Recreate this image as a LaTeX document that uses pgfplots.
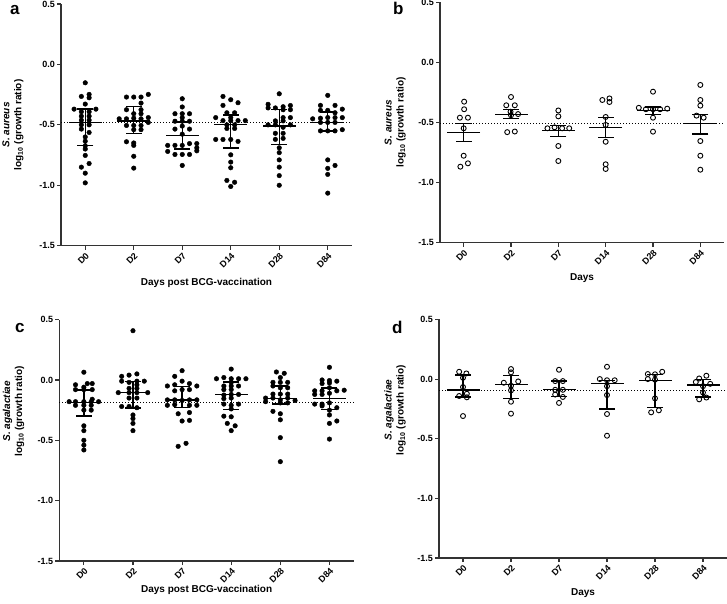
\documentclass[border=0pt]{standalone}
\usepackage{fontspec}
\setmainfont{Liberation Sans}
\usepackage{pgfplots}
\pgfplotsset{compat=1.18}
\usepackage{pgfplotstable}

% summary lines: x, centre line, upper bar end, lower bar end
\pgfplotstableread{
x m hi lo
0 -0.483 -0.369 -0.668
1 -0.469 -0.347 -0.574
2 -0.588 -0.477 -0.700
3 -0.499 -0.419 -0.692
4 -0.510 -0.375 -0.662
5 -0.478 -0.394 -0.550
}\statA
\pgfplotstableread{
x m hi lo
0 -0.581 -0.507 -0.659
1 -0.432 -0.394 -0.465
2 -0.568 -0.523 -0.615
3 -0.543 -0.457 -0.626
4 -0.399 -0.372 -0.435
5 -0.510 -0.436 -0.596
}\statB
\pgfplotstableread{
x m hi lo
0 -0.185 -0.083 -0.298
1 -0.105 -0.014 -0.232
2 -0.166 -0.055 -0.226
3 -0.121 -0.017 -0.243
4 -0.155 -0.050 -0.200
5 -0.155 -0.066 -0.243
}\statC
\pgfplotstableread{
x m hi lo
0 -0.092 0.034 -0.151
1 -0.045 0.028 -0.165
2 -0.087 -0.017 -0.145
3 -0.039 -0.011 -0.251
4 -0.011 0.039 -0.237
5 -0.050 -0.003 -0.151
}\statD

\pgfplotsset{
 panel/.style={
  scale only axis, clip=false,
  xmin=-0.5, xmax=5.5, ymin=-1.5, ymax=0.5,
  axis lines*=left,
  axis line style={black!80, line width=1.1pt},
  every tick/.style={black!80, line width=1.1pt},
  tick align=outside, major tick length=4pt,
  xtick={0,...,5}, xticklabels={D0,D2,D7,D14,D28,D84},
  ytick={-1.5,-1,-0.5,0,0.5}, yticklabels={-1.5,-1.0,-0.5,0.0,0.5},
  tick label style={font=\bfseries\fontsize{9}{10}\selectfont},
  xticklabel style={rotate=45, anchor=north east, inner sep=1.5pt},
  yticklabel style={inner sep=2pt},
  label style={font=\bfseries\fontsize{10}{12}\selectfont},
 },
 dots/.style={only marks, mark=*, mark size=2.3pt, black},
 circs/.style={only marks, mark=o, mark size=2.5pt, black, mark options={line width=0.9pt}},
 ctr/.style={black, only marks, mark=-, mark size=16.5pt, mark options={line width=1.3pt},
   /pgfplots/error bars/y dir=both, /pgfplots/error bars/y explicit,
   /pgfplots/error bars/error mark=none,
   /pgfplots/error bars/error bar style={line width=1.3pt}},
 cap/.style={black, only marks, mark=-, mark size=8pt, mark options={line width=1.3pt}},
 refl/.style={black, line width=1pt, dash pattern=on 1pt off 2pt},
}

\begin{document}
\begin{tikzpicture}
\useasboundingbox (0,0) rectangle (727pt,603pt);

% ---------------- panel a ----------------
\begin{axis}[panel, at={(61pt,357.3pt)}, anchor=south west, width=291pt, height=241.7pt,
  xlabel={Days post BCG-vaccination},
  xlabel style={at={(axis description cs:0.5,0)}, yshift=-37pt, anchor=center},
  ylabel={\textit{S. aureus}\\log\textsubscript{10} (growth ratio)},
  ylabel style={at={(axis description cs:-0.165,0.5)}, anchor=center, align=center}]
\addplot[refl] coordinates {(-0.5,-0.483) (5.5,-0.483)};
\addplot[dots] coordinates {
(0,-0.152) (-0.08,-0.265) (0.08,-0.248) (0.08,-0.276) (0,-0.328)
(-0.23,-0.37) (0.22,-0.37) (-0.08,-0.392) (0.08,-0.392)
(-0.08,-0.428) (0.08,-0.428) (-0.08,-0.461) (0.08,-0.461)
(-0.08,-0.50) (0.08,-0.50) (-0.08,-0.535) (0.08,-0.563)
(0,-0.60) (0,-0.635) (0,-0.673) (0,-0.70) (0,-0.753)
(0.08,-0.82) (-0.08,-0.85) (0,-0.90) (0,-0.98)
(0.85,-0.27) (1,-0.27) (1.15,-0.27) (1.3,-0.248)
(1.15,-0.32) (0.85,-0.375) (1.15,-0.375) (1,-0.408) (1.15,-0.408)
(0.7,-0.45) (0.85,-0.45) (1,-0.445) (1.15,-0.45) (1.3,-0.44) (1.3,-0.48)
(0.85,-0.505) (1,-0.505) (1.15,-0.505) (1,-0.54) (1.15,-0.54)
(0.85,-0.64) (1,-0.65) (1,-0.67) (1,-0.76) (1,-0.858)
(2,-0.284) (2,-0.352) (1.85,-0.408) (2,-0.408) (2.15,-0.408)
(2,-0.44) (1.85,-0.47) (2,-0.47) (2.15,-0.47)
(2,-0.51) (1.85,-0.535) (2.15,-0.535) (2,-0.577)
(1.7,-0.67) (1.85,-0.67) (2,-0.67) (2.15,-0.655) (2.3,-0.655) (2.3,-0.69)
(1.7,-0.72) (1.85,-0.745) (2,-0.745) (2.15,-0.745) (2.3,-0.715) (2,-0.836)
(2.84,-0.265) (3,-0.292) (3.15,-0.317) (2.84,-0.339)
(2.92,-0.40) (3.08,-0.40) (3,-0.44) (2.69,-0.44)
(2.84,-0.465) (3,-0.465) (3.15,-0.465) (3.3,-0.465)
(2.92,-0.50) (3.08,-0.50) (2.92,-0.53) (3.08,-0.53)
(2.69,-0.621) (2.84,-0.621) (3,-0.621) (3.15,-0.637)
(3,-0.748) (3,-0.808) (3,-0.855) (2.92,-0.96) (3.08,-0.975) (3,-1.01)
(4,-0.243) (3.77,-0.33) (3.92,-0.36) (4.08,-0.35) (4.23,-0.34) (3.77,-0.36)
(4.08,-0.375) (4.23,-0.375) (4.08,-0.44) (4.23,-0.44)
(3.92,-0.467) (4.08,-0.467) (3.77,-0.50) (3.92,-0.50) (4.08,-0.52) (4.23,-0.50)
(3.92,-0.57) (4.08,-0.57) (3.92,-0.62) (4.08,-0.612)
(4,-0.69) (4,-0.73) (4,-0.79) (4,-0.85) (4,-0.92) (4,-1.0)
(5,-0.256) (4.85,-0.339) (5.15,-0.339) (4.85,-0.38) (5,-0.38) (5.3,-0.37) (5.15,-0.40)
(4.69,-0.45) (4.85,-0.445) (5,-0.44) (5.15,-0.44) (5.3,-0.44)
(4.85,-0.48) (5,-0.48) (5.15,-0.48)
(4.85,-0.55) (5,-0.55) (5.15,-0.55) (5.3,-0.54)
(5,-0.79) (5.15,-0.836) (5,-0.86) (5,-0.91) (5,-1.065)
};
\addplot[ctr] table[x=x, y=m, y error plus expr=\thisrow{hi}-\thisrow{m}, y error minus expr=\thisrow{m}-\thisrow{lo}] {\statA};
\addplot[cap] table[x=x, y=hi] {\statA};
\addplot[cap] table[x=x, y=lo] {\statA};
\end{axis}

% ---------------- panel b ----------------
\begin{axis}[panel, at={(440pt,360.1pt)}, anchor=south west, width=284pt, height=240.8pt,
  xlabel={Days},
  xlabel style={at={(axis description cs:0.5,0)}, yshift=-35pt, anchor=center},
  ylabel={\textit{S. aureus}\\log\textsubscript{10} (growth ratio)},
  ylabel style={at={(axis description cs:-0.158,0.5)}, anchor=center, align=center}]
\addplot[refl] coordinates {(-0.5,-0.505) (5.5,-0.505)};
\addplot[circs] coordinates {
(0.01,-0.327) (0.01,-0.39) (-0.08,-0.46) (0.09,-0.46) (0,-0.548) (0,-0.776) (-0.07,-0.867) (0.09,-0.839)
(1,-0.288) (0.9,-0.357) (1.08,-0.357) (0.99,-0.41) (1,-0.44) (1.15,-0.43) (0.92,-0.58) (1.08,-0.575)
(2,-0.40) (2,-0.449) (1.77,-0.548) (1.92,-0.54) (2.08,-0.548) (2.23,-0.548) (2,-0.695) (2,-0.82)
(2.93,-0.313) (3.08,-0.30) (3.08,-0.33) (3,-0.454) (3,-0.52) (3,-0.66) (3,-0.847) (3,-0.886)
(4,-0.244) (3.7,-0.378) (3.85,-0.39) (4,-0.39) (4.15,-0.39) (4.3,-0.385) (4,-0.46) (4,-0.576)
(5,-0.188) (5,-0.313) (5,-0.36) (4.92,-0.443) (5.07,-0.46) (5,-0.654) (5,-0.776) (5,-0.892)
};
\addplot[ctr] table[x=x, y=m, y error plus expr=\thisrow{hi}-\thisrow{m}, y error minus expr=\thisrow{m}-\thisrow{lo}] {\statB};
\addplot[cap] table[x=x, y=hi] {\statB};
\addplot[cap] table[x=x, y=lo] {\statB};
\end{axis}

% ---------------- panel c ----------------
\begin{axis}[panel, at={(59.3pt,42pt)}, anchor=south west, width=294.7pt, height=241.4pt,
  xlabel={Days post BCG-vaccination},
  xlabel style={at={(axis description cs:0.5,0)}, yshift=-29pt, anchor=center},
  ylabel={\textit{S. agalactiae}\\log\textsubscript{10} (growth ratio)},
  ylabel style={at={(axis description cs:-0.155,0.62)}, anchor=center, align=center}]
\addplot[refl] coordinates {(-0.5,-0.185) (5.5,-0.185)};
\addplot[dots] coordinates {
(0,0.064) (-0.17,-0.04) (0.07,-0.03) (0.17,-0.03) (0,-0.06)
(-0.17,-0.08) (0,-0.08) (0.17,-0.08)
(-0.3,-0.18) (-0.17,-0.18) (0,-0.18) (0.15,-0.18) (0.3,-0.18) (0.17,-0.16)
(-0.17,-0.21) (0,-0.21) (0.15,-0.21) (0,-0.25) (0.15,-0.25)
(0,-0.38) (0,-0.42) (0,-0.50) (0,-0.54) (0,-0.58)
(1,0.408) (0.77,0.03) (0.92,0.04) (1.08,0.05)
(0.77,-0.01) (0.92,-0.02) (1.08,-0.01) (1.23,-0.01) (1.08,-0.04)
(0.92,-0.07) (1.08,-0.07)
(0.7,-0.105) (0.92,-0.105) (1.08,-0.105) (1.3,-0.105)
(0.92,-0.15) (1.08,-0.15) (0.77,-0.22) (0.92,-0.22) (1.08,-0.23)
(1,-0.29) (1,-0.32) (1,-0.36) (1,-0.42)
(2,0.077) (1.85,0.03)
(1.7,-0.05) (1.85,-0.04) (2,-0.01) (2.15,-0.03) (2.3,-0.05)
(1.85,-0.09) (2,-0.08) (2.15,-0.08)
(1.7,-0.165) (1.85,-0.165) (2,-0.17) (2.15,-0.165) (2.3,-0.165)
(1.7,-0.21) (1.85,-0.205) (2.15,-0.21) (2.3,-0.21)
(1.92,-0.28) (2.15,-0.27) (2,-0.34) (2.15,-0.335) (1.92,-0.55) (2.08,-0.525)
(3,0.09) (2.7,0.01) (2.85,0.02) (3,0.01) (3.15,0.01) (3.3,0.01)
(3,-0.02) (2.85,-0.05) (3,-0.05) (3.15,-0.05) (2.85,-0.08) (3,-0.08)
(2.85,-0.125) (3,-0.12) (3.15,-0.12) (2.85,-0.155) (3,-0.15)
(2.85,-0.2) (3,-0.21) (3.15,-0.2) (3,-0.24)
(2.85,-0.3) (3,-0.305) (2.92,-0.36) (3.08,-0.38) (3,-0.42)
(3.92,0.066) (4.08,0.055) (4,0.02)
(3.85,-0.02) (4,-0.02) (4.15,-0.02)
(3.85,-0.05) (4,-0.065) (4.15,-0.065)
(3.85,-0.117) (4,-0.117) (4.15,-0.117)
(3.7,-0.15) (3.85,-0.15) (4,-0.165) (4.15,-0.15) (4.3,-0.17)
(3.7,-0.18) (4,-0.19) (4.15,-0.19)
(3.85,-0.26) (4,-0.28) (4,-0.33) (4,-0.478) (4,-0.677)
(5,0.105) (4.85,0.0) (5,-0.005) (5.15,-0.01) (4.85,-0.03) (5,-0.025)
(4.7,-0.09) (4.85,-0.09) (5,-0.065) (5.15,-0.09) (5.3,-0.085)
(4.7,-0.12) (4.85,-0.12) (5,-0.11)
(4.7,-0.2) (4.85,-0.2) (5,-0.19) (5.15,-0.23) (4.85,-0.215)
(5,-0.25) (5,-0.29) (5,-0.36) (5.15,-0.34) (5,-0.49)
};
\addplot[ctr] table[x=x, y=m, y error plus expr=\thisrow{hi}-\thisrow{m}, y error minus expr=\thisrow{m}-\thisrow{lo}] {\statC};
\addplot[cap] table[x=x, y=hi] {\statC};
\addplot[cap] table[x=x, y=lo] {\statC};
\end{axis}

% ---------------- panel d ----------------
\begin{axis}[panel, at={(439pt,45pt)}, anchor=south west, width=288pt, height=238.6pt,
  xlabel={Days},
  xlabel style={at={(axis description cs:0.5,0)}, yshift=-35pt, anchor=center},
  ylabel={\textit{S. agalactiae}\\log\textsubscript{10} (growth ratio)},
  ylabel style={at={(axis description cs:-0.153,0.62)}, anchor=center, align=center}]
\addplot[refl] coordinates {(-0.5,-0.092) (5.5,-0.092)};
\addplot[circs] coordinates {
(-0.08,0.061) (0.07,0.047) (0,0.011) (0,-0.067) (-0.08,-0.142) (0.08,-0.123) (0.08,-0.153) (0,-0.31)
(1,0.084) (1,0.056) (0.85,-0.031) (1.15,-0.02) (1,-0.056) (1,-0.095) (1,-0.19) (1,-0.29)
(2,0.078) (1.92,-0.017) (2.08,-0.017) (1.92,-0.09) (2.08,-0.09) (1.92,-0.13) (2.08,-0.15) (2,-0.2)
(3,0.103) (2.85,0.0) (3,-0.01) (3.16,-0.01) (3,-0.06) (3,-0.134) (3,-0.293) (3,-0.475)
(3.85,0.042) (4,0.04) (4.15,0.061) (3.85,0.0) (4,-0.005) (4,-0.162) (3.92,-0.279) (4.08,-0.262)
(5.07,0.028) (4.92,0.005) (4.85,-0.025) (5.15,-0.04) (5,-0.06) (5,-0.113) (4.92,-0.17) (5.07,-0.155)
};
\addplot[ctr] table[x=x, y=m, y error plus expr=\thisrow{hi}-\thisrow{m}, y error minus expr=\thisrow{m}-\thisrow{lo}] {\statD};
\addplot[cap] table[x=x, y=hi] {\statD};
\addplot[cap] table[x=x, y=lo] {\statD};
\end{axis}

\node[anchor=base west, inner sep=0pt, font=\bfseries\fontsize{17}{17}\selectfont] at (10pt,588pt) {a};
\node[anchor=base west, inner sep=0pt, font=\bfseries\fontsize{17}{17}\selectfont] at (393pt,588pt) {b};
\node[anchor=base west, inner sep=0pt, font=\bfseries\fontsize{17}{17}\selectfont] at (15pt,271pt) {c};
\node[anchor=base west, inner sep=0pt, font=\bfseries\fontsize{17}{17}\selectfont] at (392pt,270pt) {d};
\end{tikzpicture}
\end{document}
